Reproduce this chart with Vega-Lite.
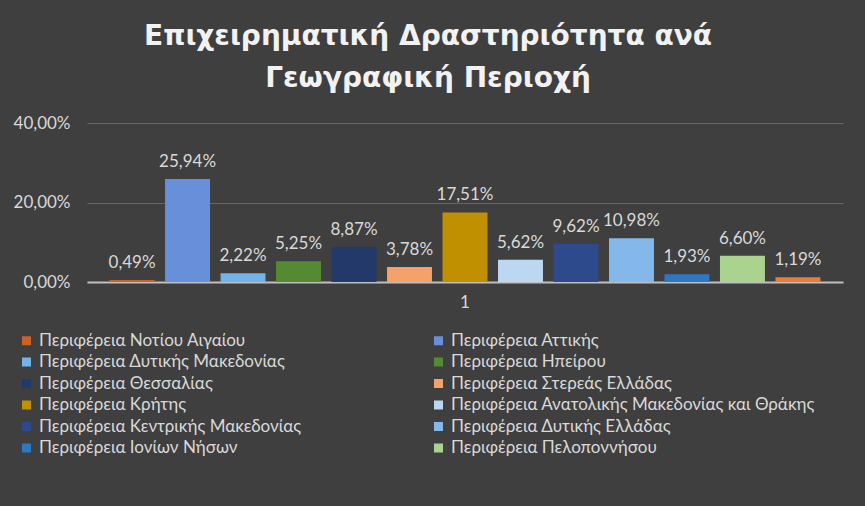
{
  "$schema": "https://vega.github.io/schema/vega-lite/v6.json",
  "width": 756,
  "height": 159,
  "autosize": {"type": "none"},
  "padding": {"left": 87, "top": 123, "right": 22, "bottom": 224},
  "background": "#3f3f3f",
  "title": {
    "text": ["Επιχειρηματική Δραστηριότητα ανά", "Γεωγραφική Περιοχή"],
    "font": "DejaVu Sans",
    "fontWeight": "bold",
    "fontSize": 28,
    "color": "#f2f2f2",
    "lineHeight": 42,
    "anchor": "middle",
    "frame": "bounds",
    "offset": 21
  },
  "data": {
    "values": [
      {"category": "1", "region": "Περιφέρεια Νοτίου Αιγαίου", "value": 0.0049},
      {"category": "1", "region": "Περιφέρεια Αττικής", "value": 0.2594},
      {"category": "1", "region": "Περιφέρεια Δυτικής Μακεδονίας", "value": 0.0222},
      {"category": "1", "region": "Περιφέρεια Ηπείρου", "value": 0.0525},
      {"category": "1", "region": "Περιφέρεια Θεσσαλίας", "value": 0.0887},
      {"category": "1", "region": "Περιφέρεια Στερεάς Ελλάδας", "value": 0.0378},
      {"category": "1", "region": "Περιφέρεια Κρήτης", "value": 0.1751},
      {"category": "1", "region": "Περιφέρεια Ανατολικής Μακεδονίας και Θράκης", "value": 0.0562},
      {"category": "1", "region": "Περιφέρεια Κεντρικής Μακεδονίας", "value": 0.0962},
      {"category": "1", "region": "Περιφέρεια Δυτικής Ελλάδας", "value": 0.1098},
      {"category": "1", "region": "Περιφέρεια Ιονίων Νήσων", "value": 0.0193},
      {"category": "1", "region": "Περιφέρεια Πελοποννήσου", "value": 0.066},
      {"category": "1", "region": "Περιφέρεια Βορείου Αιγαίου", "value": 0.0119}
    ]
  },
  "encoding": {
    "x": {
      "field": "category",
      "type": "nominal",
      "scale": {"paddingInner": 0, "paddingOuter": 0.024},
      "axis": {"title": null, "labelAngle": 0, "ticks": false, "domainColor": "#bfbfbf", "domainWidth": 2, "labelPadding": 12, "labelFontSize": 17, "labelColor": "#d9d9d9", "labelFont": "Lato"}
    },
    "xOffset": {
      "field": "region",
      "type": "nominal",
      "sort": null,
      "scale": {"paddingInner": 0.19, "paddingOuter": 0.095}
    },
    "y": {
      "field": "value",
      "type": "quantitative",
      "scale": {"domain": [0, 0.4], "nice": false},
      "axis": {"title": null, "values": [0, 0.2, 0.4], "format": ".2%", "domain": false, "ticks": false, "labelPadding": 17, "labelFontSize": 17, "labelColor": "#d9d9d9", "labelFont": "Lato", "gridColor": "#666666", "gridWidth": 1}
    }
  },
  "layer": [
    {
      "mark": {"type": "bar"},
      "encoding": {
        "color": {
          "field": "region",
          "type": "nominal",
          "scale": {
            "domain": ["Περιφέρεια Νοτίου Αιγαίου", "Περιφέρεια Αττικής", "Περιφέρεια Δυτικής Μακεδονίας", "Περιφέρεια Ηπείρου", "Περιφέρεια Θεσσαλίας", "Περιφέρεια Στερεάς Ελλάδας", "Περιφέρεια Κρήτης", "Περιφέρεια Ανατολικής Μακεδονίας και Θράκης", "Περιφέρεια Κεντρικής Μακεδονίας", "Περιφέρεια Δυτικής Ελλάδας", "Περιφέρεια Ιονίων Νήσων", "Περιφέρεια Πελοποννήσου", "Περιφέρεια Βορείου Αιγαίου"],
            "range": ["#cc6224", "#6890da", "#72b3ec", "#548a32", "#22396a", "#f5a26a", "#c09000", "#bcd7f1", "#2c4a8c", "#84b8ea", "#2e78c2", "#a9d38e", "#ec7c35"]
          },
          "legend": {
            "title": null,
            "values": ["Περιφέρεια Νοτίου Αιγαίου", "Περιφέρεια Αττικής", "Περιφέρεια Δυτικής Μακεδονίας", "Περιφέρεια Ηπείρου", "Περιφέρεια Θεσσαλίας", "Περιφέρεια Στερεάς Ελλάδας", "Περιφέρεια Κρήτης", "Περιφέρεια Ανατολικής Μακεδονίας και Θράκης", "Περιφέρεια Κεντρικής Μακεδονίας", "Περιφέρεια Δυτικής Ελλάδας", "Περιφέρεια Ιονίων Νήσων", "Περιφέρεια Πελοποννήσου"],
            "orient": "none",
            "legendX": -69,
            "legendY": 209,
            "columns": 2,
            "direction": "horizontal",
            "columnPadding": 128,
            "rowPadding": 3.5,
            "symbolType": "square",
            "symbolSize": 81,
            "symbolStrokeWidth": 0,
            "symbolOpacity": 1,
            "labelOffset": 4,
            "labelFontSize": 17,
            "labelFont": "Lato",
            "labelColor": "#d9d9d9",
            "labelLimit": 500,
            "padding": 0
          }
        }
      }
    },
    {
      "mark": {"type": "text", "baseline": "bottom", "dy": -8, "fontSize": 17, "font": "Lato", "color": "#d9d9d9"},
      "encoding": {
        "text": {"field": "value", "type": "quantitative", "format": ".2%"}
      }
    }
  ],
  "config": {
    "locale": {"number": {"decimal": ",", "thousands": ".", "grouping": [3], "currency": ["", " €"]}},
    "view": {"stroke": null},
    "axis": {"gridColor": "#666666"}
  }
}
